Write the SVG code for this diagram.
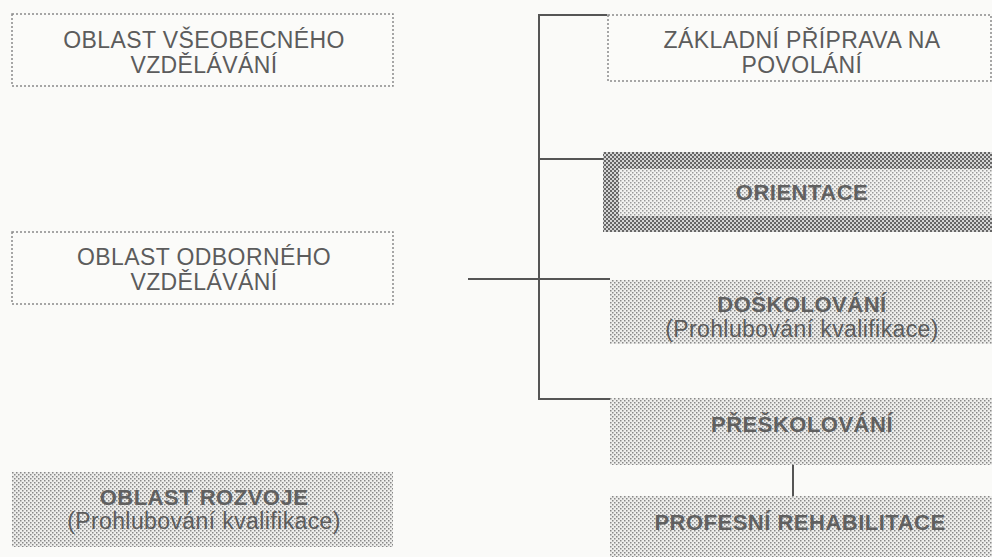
<svg xmlns="http://www.w3.org/2000/svg" width="992" height="557" viewBox="0 0 992 557">
<defs>
<pattern id="dots" width="4" height="4" patternUnits="userSpaceOnUse">
<rect width="4" height="4" fill="#eeeeec"/>
<rect x="0" y="0" width="1.5" height="1.5" fill="#888"/>
<rect x="2" y="2" width="1.5" height="1.5" fill="#888"/>
</pattern>
<pattern id="dark" width="4" height="4" patternUnits="userSpaceOnUse">
<rect width="4" height="4" fill="#d4d4d4"/>
<rect x="0" y="0" width="2" height="2" fill="#666"/>
<rect x="2" y="2" width="2" height="2" fill="#666"/>
</pattern>
<pattern id="light" width="4" height="4" patternUnits="userSpaceOnUse">
<rect width="4" height="4" fill="#f2f2f0"/>
<rect x="0" y="0" width="1.5" height="1.5" fill="#999"/>
<rect x="2" y="2" width="1.5" height="1.5" fill="#999"/>
</pattern>
</defs>
<style>
.dash{fill:#fbfbf9;stroke:#8a8a8a;stroke-width:1.5;stroke-dasharray:2,2}
.pat{fill:url(#dots)}
.t{font-family:"Liberation Sans",Arial,sans-serif;font-size:23px;fill:#5c5c5c;text-anchor:middle;letter-spacing:0.4px}
.b{font-family:"Liberation Sans",Arial,sans-serif;font-size:22px;font-weight:bold;fill:#606060;text-anchor:middle;letter-spacing:0.5px}
.c{stroke:#555;stroke-width:2;fill:none}
</style>
<rect width="992" height="557" fill="#fafaf8"/>

<g id="connectors">
<polyline class="c" points="607,15 539,15 539,399 610,399"/>
<line class="c" x1="539" y1="159" x2="603" y2="159"/>
<line class="c" x1="468" y1="279" x2="610" y2="279"/>
<line class="c" x1="793" y1="465" x2="793" y2="496"/>
</g>

<g id="vseobecne">
<rect class="dash" x="12" y="14" width="381" height="72"/>
<text class="t" x="204" y="48">OBLAST VŠEOBECNÉHO</text>
<text class="t" x="204" y="73">VZDĚLÁVÁNÍ</text>
</g>

<g id="odborne">
<rect class="dash" x="12" y="232" width="381" height="72"/>
<text class="t" x="204" y="265">OBLAST ODBORNÉHO</text>
<text class="t" x="204" y="290">VZDĚLÁVÁNÍ</text>
</g>

<g id="rozvoj">
<rect class="pat" x="12" y="472" width="381" height="75"/>
<text class="b" x="204" y="505">OBLAST ROZVOJE</text>
<text class="t" x="204" y="529">(Prohlubování kvalifikace)</text>
</g>

<g id="zakladni">
<rect class="dash" x="608" y="15" width="383" height="66"/>
<text class="t" x="802" y="48">ZÁKLADNÍ PŘÍPRAVA NA</text>
<text class="t" x="802" y="73">POVOLÁNÍ</text>
</g>

<g id="orientace">
<rect x="603" y="152" width="389" height="80" fill="url(#dark)"/>
<rect x="619" y="169" width="373" height="47" fill="url(#light)"/>
<text class="b" x="802" y="200">ORIENTACE</text>
</g>

<g id="doskolovani">
<rect class="pat" x="610" y="280" width="382" height="64"/>
<text class="b" x="802" y="312">DOŠKOLOVÁNÍ</text>
<text class="t" x="802" y="337">(Prohlubování kvalifikace)</text>
</g>

<g id="preskolovani">
<rect class="pat" x="610" y="398" width="382" height="67"/>
<text class="b" x="802" y="432">PŘEŠKOLOVÁNÍ</text>
</g>

<g id="rehabilitace">
<rect class="pat" x="610" y="496" width="382" height="61"/>
<text class="b" x="800" y="530">PROFESNÍ REHABILITACE</text>
</g>
</svg>
